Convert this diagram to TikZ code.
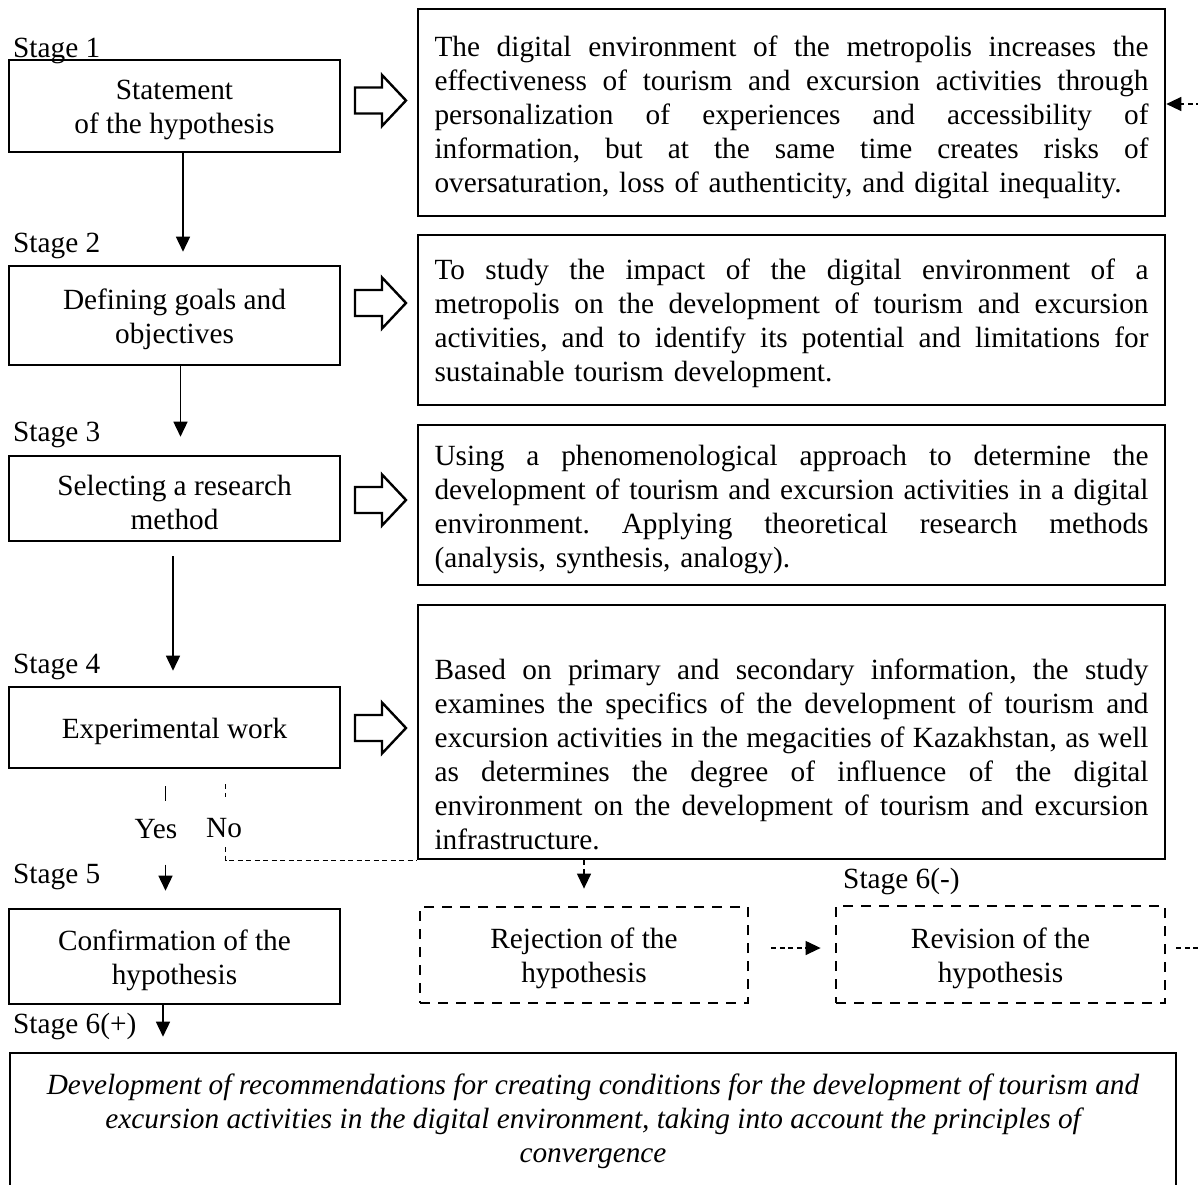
\documentclass[tikz,border=0pt]{standalone}
\usepackage{fontspec}
\setmainfont{Liberation Serif}
\usetikzlibrary{arrows.meta}
\frenchspacing
\newcommand\jl[1]{\makebox[714pt][s]{\spaceskip=0.25em plus 3em minus 0.05em\xspaceskip=\spaceskip\relax #1}}
\newcommand\barrow[1]{\draw[hollow] (#1) ++(-25.5,-13) -- ++(27,0) -- ++(0,-12.5) -- ++(24,25.5) -- ++(-24,25.5) -- ++(0,-12.5) -- ++(-27,0) -- cycle;}
\begin{document}
\begin{tikzpicture}[x=1pt,y=-1pt,
 every node/.style={font=\fontsize{29.3}{34}\selectfont, inner sep=0pt},
 lbox/.style={draw, line width=2.6pt, minimum width=331pt},
 rbox/.style={draw, line width=2.6pt, minimum width=747pt},
 dbox/.style={draw, line width=2.8pt, dash pattern=on 10pt off 8pt},
 btext/.style={align=center},
 arr/.style={line width=1.5pt, -{Triangle[width=14pt,length=15pt]}},
 darr/.style={line width=1.3pt, dash pattern=on 5pt off 3.5pt, -{Triangle[width=14pt,length=15pt]}},
 dline/.style={line width=1.3pt, dash pattern=on 5pt off 3.5pt},
 rtext/.style={text width=714pt, align=left},
 lab/.style={anchor=base west},
 hollow/.style={draw, line width=2.4pt, fill=white}]
\useasboundingbox (0,0) rectangle (1198,1184);

% left boxes
\node[lbox, minimum height=92pt] (b1) at (174.5,106) {};
\node[lbox, minimum height=99pt] (b2) at (174.5,315.5) {};
\node[lbox, minimum height=85pt] (b3) at (174.5,498.5) {};
\node[lbox, minimum height=81pt] (b4) at (174.5,727.5) {};
\node[lbox, minimum height=95pt] (b5) at (174.5,956.5) {};
\node[btext] (x1) at ([yshift=-3.5pt]b1.center) {Statement\\of the hypothesis};
\node[btext] (x2) at ([yshift=-3.5pt]b2.center) {Defining goals and\\objectives};
\node[btext] (x3) at ([yshift=-3.5pt]b3.center) {Selecting a research\\method};
\node[btext] (x4) at ([yshift=-3.5pt]b4.center) {Experimental work};
\node[btext] (x5) at ([yshift=-3.5pt]b5.center) {Confirmation of the\\hypothesis};

% right boxes
\node[rbox, minimum height=207pt] (r1) at (791.5,112.5) {};
\node[rtext] (t1) at (791.5,117) {\jl{The digital environment of the metropolis increases the}\\
\jl{effectiveness of tourism and excursion activities through}\\
\jl{personalization of experiences and accessibility of}\\
\jl{information, but at the same time creates risks of}\\
oversaturation, loss of authenticity, and digital inequality.};

\node[rbox, minimum height=170pt] (r2) at (791.5,320) {};
\node[rtext] (t2) at (791.5,323.5) {\jl{To study the impact of the digital environment of a}\\
\jl{metropolis on the development of tourism and excursion}\\
\jl{activities, and to identify its potential and limitations for}\\
sustainable tourism development.};

\node[rbox, minimum height=160pt] (r3) at (791.5,505) {};
\node[rtext] (t3) at (791.5,509.5) {\jl{Using a phenomenological approach to determine the}\\
\jl{development of tourism and excursion activities in a digital}\\
\jl{environment. Applying theoretical research methods}\\
(analysis, synthesis, analogy).};

\node[rbox, minimum height=254pt] (r4) at (791.5,732) {};
\node[rtext] (t4) at (791.5,754) {\jl{Based on primary and secondary information, the study}\\
\jl{examines the specifics of the development of tourism and}\\
\jl{excursion activities in the megacities of Kazakhstan, as well}\\
\jl{as determines the degree of influence of the digital}\\
\jl{environment on the development of tourism and excursion}\\
infrastructure.};

% dashed boxes
\node[dbox, minimum width=328pt, minimum height=96pt] (rej) at (584,955) {};
\node[dbox, minimum width=329pt, minimum height=97pt] (rev) at (1000.5,954.5) {};
\node[btext] (x7) at ([yshift=-3.5pt]rej.center) {Rejection of the\\hypothesis};
\node[btext] (x8) at ([yshift=-3.5pt]rev.center) {Revision of the\\hypothesis};

% bottom box
\node[draw, line width=2.6pt, minimum width=1166pt, minimum height=142pt] (b6) at (593,1124) {};
\node[align=center, font=\fontsize{29.3}{34}\selectfont\itshape] (t6) at (593,1121) {Development of recommendations for creating conditions for the development of tourism and\\excursion activities in the digital environment, taking into account the principles of\\convergence};

% labels
\node[lab] (s1) at (13,57) {Stage 1};
\node[lab] (s2) at (13,252.5) {Stage 2};
\node[lab] (s3) at (13,441.5) {Stage 3};
\node[lab] (s4) at (13,673) {Stage 4};
\node[lab] (s5) at (13,883) {Stage 5};
\node[lab] (s6p) at (13,1033) {Stage 6(+)};
\node[lab] (s6m) at (843,888) {Stage 6(-)};
\node[anchor=base] (yes) at (156,838) {Yes};
\node[anchor=base west] (no) at (206,837) {No};

% block arrows
\coordinate (ba1) at (380.5,100.5);
\coordinate (ba2) at (380.5,303);
\coordinate (ba3) at (380.5,500);
\coordinate (ba4) at (380.5,728);
\barrow{ba1}
\barrow{ba2}
\barrow{ba3}
\barrow{ba4}

% vertical connectors
\draw[arr] ([xshift=8.5pt]b1.south) -- ([xshift=8.5pt,yshift=13pt]b2.north);
\draw[arr] ([xshift=6pt]b2.south) -- ([xshift=6pt,yshift=18pt]b3.north);
\draw[arr] ([xshift=-1.5pt,yshift=-14pt]b3.south) -- ([xshift=-1.5pt,yshift=15pt]b4.north);
\draw[line width=1.5pt] ([xshift=-9pt,yshift=-17pt]b4.south) -- ++(0,15);
\draw[arr] ([xshift=-9pt,yshift=43pt]b5.north) -- ([xshift=-9pt,yshift=17pt]b5.north);
\coordinate (p5) at ([xshift=-11.5pt]b5.south);
\coordinate (p6) at ([yshift=15pt]b6.north);
\draw[arr] (p5) -- (p5 |- p6);

% No branch
\draw[dline] ([xshift=51pt,yshift=-15pt]b4.south) -- ++(0,13);
\coordinate (nobr) at (225.5,847);
\draw[dline] (nobr) |- (r4.south west);
\draw[darr, shorten >=17pt] (r4.south -| rej.north) -- (rej.north);
\draw[darr, shorten <=22pt, shorten >=14pt] ([yshift=7pt]rej.east) -- ([yshift=7pt]rej.east -| rev.west);

% feedback
\coordinate (fb1) at (1230,948);
\coordinate (fb2) at (1230,104);
\draw[darr] ([xshift=10pt,yshift=6.5pt]rev.east) -- (fb1) -- (fb2) -- ([yshift=8.5pt]r1.east);
\end{tikzpicture}
\end{document}
